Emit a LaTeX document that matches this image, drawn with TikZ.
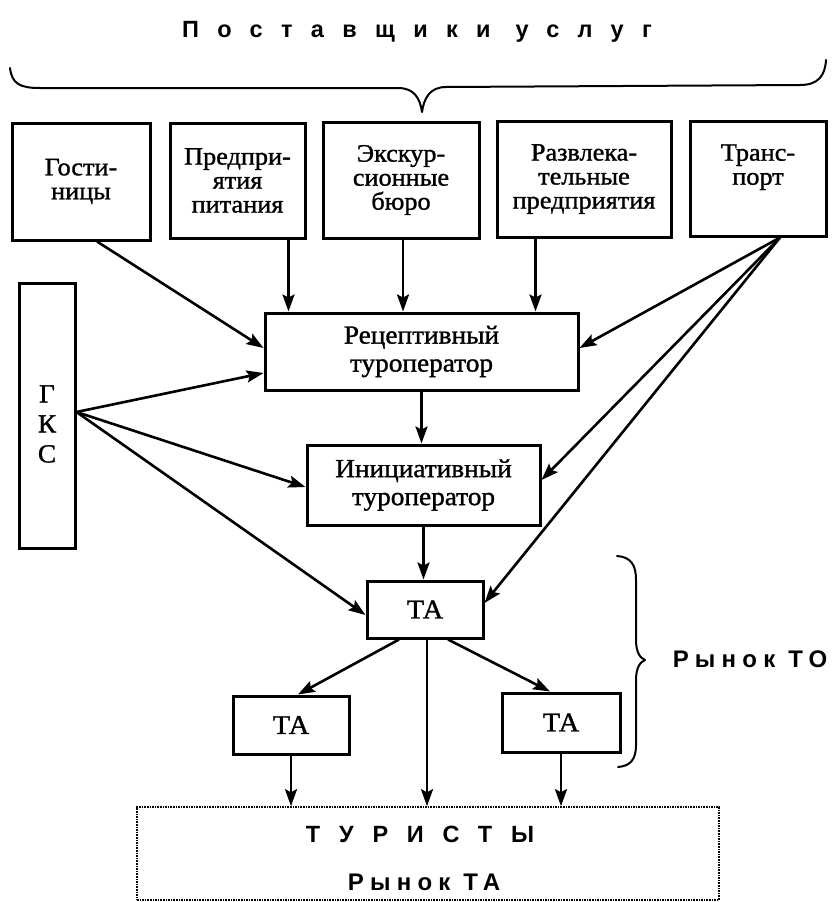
\documentclass[tikz,border=0pt]{standalone}
\usepackage{fontspec}
\setmainfont[FakeStretch=1.05,FakeBold=1.2]{Liberation Serif}
\newfontfamily\titlefont[LetterSpace=78]{Liberation Sans}
\newfontfamily\turfont[LetterSpace=80]{Liberation Sans}
\newfontfamily\marketfont[LetterSpace=26]{Liberation Sans}
\usetikzlibrary{arrows.meta,calc}
\begin{document}
\begin{tikzpicture}[x=1pt,y=-1pt,
  box/.style={draw, line width=3pt, inner sep=0pt, align=center,
    font=\fontsize{25}{24}\selectfont},
  midbox/.style={box, font=\fontsize{26}{28}\selectfont},
  tabox/.style={box, font=\fontsize{27}{28}\selectfont},
  arr/.style={line width=2.6pt, -{Stealth[length=17pt,width=12pt,inset=3pt]}},
  brace/.style={line width=2pt, line cap=round, line join=round},
  lbl/.style={inner sep=0pt, anchor=base}
]
\fill[white] (0,0) rectangle (832,902);
\useasboundingbox (0,0) rectangle (832,902);

% title and brace
\node[lbl, font=\titlefont\bfseries\fontsize{23.5}{25}\selectfont] (title) at (417,37) {Поставщики услуг};
\draw[brace] (10,68) .. controls (12,84) and (20,88) .. (40,88) -- (398,88)
  .. controls (414,88) and (420,98) .. (422,112)
  .. controls (424,98) and (430,87) .. (446,87) -- (800,85)
  .. controls (818,85) and (825,76) .. (826,60);

% suppliers
\node[box, minimum width=138pt, minimum height=117pt] (g) at (81,181.5) {Гости-\\ницы};
\node[box, minimum width=135pt, minimum height=115pt] (p) at (237.5,180.5) {Предпри-\\ятия\\питания};
\node[box, minimum width=156pt, minimum height=116pt] (e) at (401,180) {Экскур-\\сионные\\бюро};
\node[box, minimum width=174pt, minimum height=116pt] (r) at (584,179) {Развлека-\\тельные\\предприятия};
\node[box, minimum width=136pt, minimum height=115pt] (t) at (758,178.5) {Транс-\\порт\\[4pt]};

% GKS
\node[box, minimum width=56pt, minimum height=265pt] (gks) at (47,415.5) {};
\node[inner sep=0pt, align=center, font=\fontsize{26}{30}\selectfont] (gkst) at (47,424) {Г\\К\\С};

% operators
\node[midbox, minimum width=313pt, minimum height=77pt] (rec) at (421.5,351.5) {Рецептивный\\туроператор};
\node[midbox, minimum width=233pt, minimum height=80pt] (ini) at (423.5,485) {Инициативный\\туроператор};

% agents
\node[tabox, minimum width=116pt, minimum height=57pt] (ta) at (425,609.5) {ТА};
\node[tabox, minimum width=116pt, minimum height=58pt] (tal) at (291,725) {ТА};
\node[tabox, minimum width=118pt, minimum height=59pt] (tar) at (561,722.5) {ТА};

% tourists
\node[draw, densely dotted, line width=1.6pt, minimum width=582pt, minimum height=93pt, inner sep=0pt] (tur) at (428,853.5) {};
\node[lbl, font=\turfont\bfseries\fontsize{23.5}{25}\selectfont] (turt) at (420,842) {ТУРИСТЫ};
\node[lbl, font=\marketfont\bfseries\fontsize{24}{25}\selectfont] (mta) at (424,890) {Рынок ТА};

% market TO brace
\draw[brace] (617,556) .. controls (631,557) and (636,565) .. (636,580) -- (636,640)
  .. controls (636,652) and (640,658) .. (645,660)
  .. controls (640,662) and (636,668) .. (636,680) -- (636,745)
  .. controls (636,760) and (630,766) .. (618,767);
\node[lbl, font=\marketfont\bfseries\fontsize{24}{25}\selectfont] (mto) at (750,667) {Рынок ТО};

% connectors from suppliers
\coordinate (ts) at ([xshift=22pt]t.south);
\draw[arr] ([xshift=16pt]g.south) -- ([yshift=3.5pt]rec.west);
\draw[arr] ([xshift=-18pt]p.south east) -- ([xshift=-18pt]p.south east |- rec.north);
\draw[arr] ([xshift=2pt]e.south) -- ([xshift=2pt]e.south |- rec.north);
\draw[arr] ([xshift=40pt]r.south west) -- ([xshift=40pt]r.south west |- rec.north);
\draw[arr] (ts) -- ([yshift=3.5pt]rec.east);
\draw[arr] (ts) -- ([yshift=5pt]ini.east);
\draw[arr] (ts) -- ([yshift=6.5pt]ta.east);

% GKS connectors
\coordinate (gs) at ([yshift=3.5pt]gks.east);
\draw[arr] (gs) -- ([yshift=-21.5pt]rec.west);
\draw[arr] (gs) -- ([yshift=-2pt]ini.west);
\draw[arr] (gs) -- ([yshift=-5.5pt]ta.west);

% vertical chain
\draw[arr] (rec.south) -- (rec.south |- ini.north);
\draw[arr] (ini.south) -- (ini.south |- ta.north);
\draw[arr] ([xshift=-26pt]ta.south) -- ([xshift=7pt]tal.north);
\draw[arr] ([xshift=2pt]ta.south) -- ([xshift=2pt]ta.south |- tur.north);
\draw[arr] ([xshift=23pt]ta.south) -- ([xshift=-11pt]tar.north);
\draw[arr] (tal.south) -- (tal.south |- tur.north);
\draw[arr] (tar.south) -- (tar.south |- tur.north);
\end{tikzpicture}
\end{document}
